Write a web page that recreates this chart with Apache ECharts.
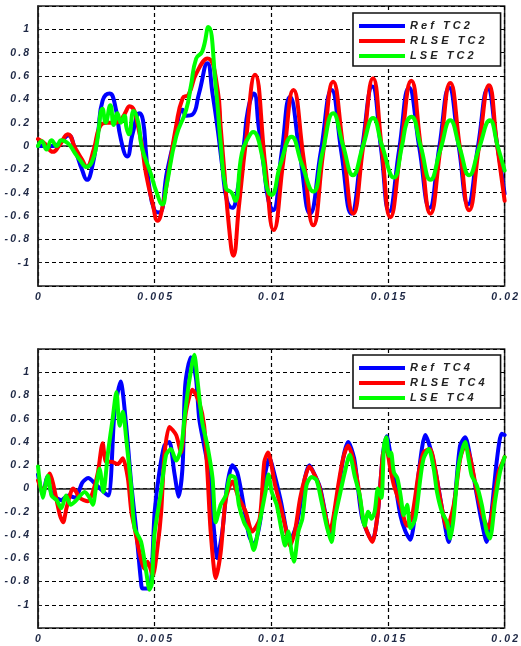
<!DOCTYPE html>
<html>
<head>
<meta charset="utf-8">
<script src="https://cdn.jsdelivr.net/npm/echarts@6/dist/echarts.min.js"></script>
<style>
  html, body { margin: 0; padding: 0; background: #fff; }
  #chart { width: 521px; height: 646px; }
</style>
</head>
<body>
<div id="chart"></div>
<script>
// Time axis ticks (s) and value axis range
const timeTicks = [0, 0.005, 0.01, 0.015, 0.02];
const valueTicks = [-1, -0.8, -0.6, -0.4, -0.2, 0, 0.2, 0.4, 0.6, 0.8, 1];

// ---- TC2 panel ----
const tc2RefTime = [0,0.0005,0.0009,0.0013,0.0016,0.0019,0.0021,0.0023,0.00257,0.00277,0.00307,0.00328,0.00356,0.00382,0.00406,0.00435,0.0045,0.00463,0.00477,0.00499,0.0052,0.00553,0.00584,0.0062,0.00636,0.00662,0.0069,0.00726,0.00748,0.00769,0.0079,0.0081,0.00832,0.00855,0.00883,0.009,0.00925,0.00946,0.00968,0.00988,0.01007,0.01044,0.0108,0.01123,0.01166,0.01212,0.01258,0.013,0.01343,0.01388,0.01433,0.0147,0.01505,0.01548,0.0159,0.01634,0.01678,0.0172,0.01762,0.01803,0.01843,0.01886,0.01928,0.01965,0.02];
const tc2RefVal  = [0,0,0.02,0.09,-0.04,-0.21,-0.29,-0.2,0.11,0.39,0.45,0.37,0.05,-0.09,0.11,0.28,0.22,-0.06,-0.35,-0.55,-0.57,-0.22,0.05,0.31,0.26,0.27,0.45,0.71,0.45,0.16,-0.18,-0.47,-0.53,-0.38,0.02,0.31,0.45,0.16,-0.18,-0.47,-0.55,-0.06,0.42,-0.08,-0.58,-0.05,0.48,-0.05,-0.58,-0.03,0.51,-0.02,-0.56,-0.03,0.5,-0.01,-0.53,-0.01,0.5,0,-0.5,0,0.49,0.05,-0.41];

const tc2RlseTime = [0,0.0003,0.00064,0.0009,0.00128,0.0016,0.0019,0.00208,0.0024,0.00264,0.00295,0.0033,0.0036,0.00393,0.00435,0.00463,0.00491,0.00513,0.00534,0.00563,0.00591,0.0062,0.00645,0.00678,0.00726,0.0077,0.00783,0.00797,0.00819,0.00837,0.00861,0.0089,0.0093,0.00975,0.0101,0.01052,0.01095,0.01138,0.0118,0.01222,0.01265,0.01308,0.01351,0.01394,0.01436,0.01473,0.0151,0.01555,0.016,0.01641,0.01682,0.01725,0.01767,0.01808,0.01848,0.0189,0.01933,0.01967,0.02];
const tc2RlseVal  = [0.06,0.02,-0.05,0,0.1,-0.02,-0.12,-0.18,-0.02,0.16,0.2,0.2,0.24,0.34,0.11,-0.24,-0.49,-0.64,-0.52,-0.18,0.16,0.41,0.44,0.62,0.75,0.48,0.16,-0.18,-0.7,-0.94,-0.52,0.02,0.61,-0.18,-0.72,-0.12,0.48,-0.1,-0.68,-0.06,0.55,-0.01,-0.58,0,0.58,-0.01,-0.61,-0.02,0.56,-0.01,-0.58,-0.02,0.54,-0.01,-0.55,-0.01,0.52,0.02,-0.47];

const tc2LseTime = [0,0.00016,0.00037,0.00058,0.0008,0.001,0.0013,0.00158,0.0018,0.00208,0.0023,0.0025,0.00277,0.0029,0.0031,0.00325,0.0034,0.00355,0.0037,0.0038,0.0039,0.0041,0.0043,0.00445,0.00484,0.00507,0.00533,0.0055,0.00592,0.00635,0.00655,0.00678,0.00704,0.0073,0.00762,0.00783,0.00805,0.0083,0.00845,0.00874,0.00904,0.00922,0.00961,0.0098,0.01,0.0104,0.01087,0.0113,0.0118,0.0122,0.01265,0.01308,0.0135,0.01393,0.01436,0.01475,0.01525,0.0156,0.0158,0.016,0.0164,0.01682,0.01725,0.01767,0.01808,0.01848,0.0189,0.01937,0.0197,0.02];
const tc2LseVal  = [0,0.04,-0.03,0.05,0,0.05,0.02,-0.06,-0.12,-0.18,-0.14,0,0.32,0.2,0.35,0.18,0.28,0.2,0.26,0.15,0.1,0.3,0.2,-0.01,-0.24,-0.39,-0.5,-0.35,0.08,0.31,0.51,0.75,0.81,1.02,0.51,0.02,-0.36,-0.4,-0.47,-0.06,0.08,0.12,-0.09,-0.35,-0.42,-0.15,0.08,-0.15,-0.39,-0.05,0.28,0,-0.25,0,0.24,0,-0.27,0,0.2,0.25,0,-0.29,-0.03,0.22,-0.02,-0.25,-0.02,0.22,0,-0.21];

// ---- TC4 panel ----
const tc4RefTime = [0,0.0002,0.0004,0.0006,0.001,0.0013,0.0016,0.0019,0.00215,0.0025,0.003,0.00328,0.00354,0.00378,0.004,0.0042,0.0044,0.00448,0.00478,0.005,0.0052,0.00542,0.00563,0.00584,0.00603,0.0062,0.00631,0.00655,0.00677,0.00691,0.00712,0.00733,0.00755,0.00768,0.0079,0.00811,0.00833,0.00854,0.00876,0.00904,0.00925,0.00954,0.00975,0.00992,0.01016,0.0104,0.0108,0.0111,0.01144,0.01163,0.0119,0.0121,0.0123,0.01251,0.0127,0.01308,0.0133,0.01355,0.0137,0.0139,0.01433,0.01457,0.01478,0.01495,0.0151,0.01532,0.01553,0.01575,0.01596,0.01617,0.01632,0.0166,0.01689,0.01717,0.01739,0.0176,0.01788,0.01809,0.01831,0.01856,0.01881,0.01902,0.01923,0.01944,0.01966,0.01987,0.02];
const tc4RefVal  = [0.12,-0.05,0.1,-0.05,-0.1,-0.06,-0.08,0.05,0.09,0.03,-0.06,0.66,0.92,0.54,0.03,-0.34,-0.77,-0.86,-0.86,-0.2,0.14,0.37,0.4,0.14,-0.07,0.2,0.89,1.13,0.95,0.6,0.37,0.14,-0.37,-0.6,-0.37,0.03,0.2,0.14,-0.08,-0.4,-0.49,-0.26,0.14,0.26,0.1,-0.1,-0.45,-0.3,0.09,0.2,0.1,0,-0.2,-0.4,-0.26,0.26,0.4,0.26,0.03,-0.26,-0.45,-0.2,0.29,0.45,0.3,0.03,-0.23,-0.37,-0.44,-0.2,0.14,0.46,0.29,0,-0.26,-0.46,-0.06,0.37,0.44,0.23,-0.06,-0.29,-0.46,-0.2,0.23,0.47,0.46];

const tc4RlseTime = [0,0.00021,0.00051,0.00066,0.00094,0.00108,0.00122,0.0015,0.00164,0.00178,0.00214,0.00235,0.00257,0.00277,0.00292,0.00314,0.00342,0.00363,0.00385,0.004,0.00414,0.00435,0.00456,0.0047,0.00492,0.00513,0.00528,0.00542,0.00563,0.00592,0.00613,0.00634,0.00662,0.00691,0.00712,0.00726,0.0074,0.00762,0.00783,0.00805,0.00833,0.0086,0.0089,0.00918,0.0095,0.0097,0.00986,0.01016,0.01038,0.01059,0.0108,0.01101,0.01123,0.01144,0.01163,0.01187,0.01208,0.01229,0.01251,0.01265,0.01287,0.01308,0.01329,0.0135,0.01372,0.01393,0.0141,0.01433,0.01457,0.01478,0.0149,0.01513,0.01525,0.01553,0.01582,0.01604,0.01632,0.01653,0.0168,0.01705,0.01724,0.01753,0.01782,0.0181,0.01831,0.01853,0.01881,0.0191,0.01931,0.01953,0.01974,0.01994,0.02];
const tc4RlseVal  = [0.07,-0.03,0.13,0.03,-0.23,-0.29,-0.17,0,-0.03,-0.08,-0.11,-0.03,0.14,0.39,0.23,0.23,0.21,0.26,0.09,-0.2,-0.34,-0.55,-0.69,-0.63,-0.75,-0.49,-0.2,0.29,0.53,0.46,0.31,0.66,0.85,0.74,0.54,0.14,-0.37,-0.77,-0.55,-0.09,0.06,-0.08,-0.2,-0.37,-0.26,0.23,0.31,0.03,-0.14,-0.32,-0.49,-0.37,-0.09,0.09,0.19,0.11,0,-0.2,-0.37,-0.26,0.03,0.26,0.37,0.26,0.03,-0.26,-0.37,-0.46,-0.2,0.29,0.36,0.14,0.03,-0.14,-0.32,-0.23,0.14,0.31,0.34,0.14,-0.09,-0.34,-0.14,0.26,0.37,0.26,-0.03,-0.26,-0.34,-0.11,0.14,0.24,0.27];

const tc4LseTime = [0,0.0002,0.00042,0.00058,0.0008,0.001,0.0012,0.0014,0.0016,0.002,0.00221,0.00235,0.0025,0.00264,0.0028,0.003,0.0032,0.00336,0.0035,0.00364,0.00378,0.004,0.00414,0.00442,0.00464,0.00478,0.00488,0.00499,0.00527,0.00549,0.0057,0.00592,0.00613,0.00631,0.00648,0.0067,0.00684,0.00704,0.00726,0.00748,0.00762,0.00783,0.00805,0.00826,0.00845,0.00861,0.00883,0.00904,0.00925,0.00947,0.00975,0.00988,0.01002,0.01023,0.01045,0.01059,0.01073,0.01087,0.01097,0.01116,0.01133,0.01151,0.01173,0.01194,0.01215,0.01237,0.01258,0.01272,0.01293,0.01315,0.01336,0.01357,0.01379,0.014,0.01415,0.01429,0.01443,0.01457,0.01472,0.01483,0.01493,0.01504,0.01513,0.01525,0.0154,0.01554,0.01568,0.01582,0.01596,0.01617,0.01639,0.01653,0.01675,0.01696,0.0171,0.01731,0.01753,0.01767,0.01781,0.01803,0.01831,0.01845,0.01859,0.0188,0.01902,0.01923,0.01937,0.01959,0.0198,0.02];
const tc4LseVal  = [0.19,-0.08,0.11,-0.06,-0.1,-0.17,-0.06,-0.14,-0.11,-0.03,-0.08,-0.14,0.03,0.17,-0.03,0.31,0.6,0.83,0.54,0.66,0.43,0,-0.34,-0.46,-0.72,-0.87,-0.82,-0.4,-0.03,0.29,0.34,0.24,0.34,0.66,0.92,1.15,0.92,0.57,0.37,0.09,-0.29,-0.14,-0.06,0.11,0.09,-0.14,-0.29,-0.37,-0.53,-0.32,-0.03,0.12,-0.03,-0.14,-0.37,-0.49,-0.37,-0.55,-0.63,-0.37,-0.26,0.03,0.1,0.07,-0.11,-0.32,-0.46,-0.26,-0.06,0.14,0.29,0.11,-0.06,-0.32,-0.2,-0.26,-0.2,0,-0.08,0.37,0.44,0.28,0.31,0.14,0.09,-0.06,-0.23,-0.14,-0.34,-0.26,0.09,0.26,0.34,0.17,-0.03,-0.2,-0.29,-0.43,-0.26,0.2,0.4,0.26,0.11,0.03,-0.14,-0.37,-0.43,-0.11,0.14,0.27];

const seriesNames = [['Ref TC2', 'RLSE TC2', 'LSE TC2'], ['Ref TC4', 'RLSE TC4', 'LSE TC4']];
const seriesColors = ['#0000ff', '#ff0000', '#00ff00'];

const pair = (t, v) => t.map((x, i) => [x, v[i]]);
const spaced = (s, gap) => s.split('').join(gap || '\u2009');

const labelFont = {
  color: '#1d2744',
  fontFamily: 'Liberation Sans, Arial, sans-serif',
  fontWeight: 'bold',
  fontStyle: 'italic',
  fontSize: 10.5
};

const grids = [
  { left: 38, right: 14, top: 6, height: 280 },
  { left: 38, right: 14, top: 349, height: 279 }
];

function xAxisFor(i) {
  return {
    type: 'value', gridIndex: i, min: 0, max: 0.02, interval: 0.005,
    axisLine: { show: true, lineStyle: { color: '#222', width: 1.5 } },
    axisTick: { show: true, inside: true, length: 4, lineStyle: { color: '#222' } },
    splitLine: { show: true, lineStyle: { color: '#000', type: [4, 3], width: 1.2 } },
    axisLabel: Object.assign({ margin: 6, formatter: v => {
      const t = timeTicks.find(k => Math.abs(k - v) < 1e-9);
      return t === undefined ? '' : spaced(String(t));
    } }, labelFont)
  };
}

function yAxisFor(i) {
  return {
    type: 'value', gridIndex: i, min: -1.2, max: 1.2, interval: 0.2,
    axisLine: { show: true, lineStyle: { color: '#222', width: 1.5 } },
    axisTick: { show: true, inside: true, length: 4, lineStyle: { color: '#222' } },
    splitLine: { show: true, lineStyle: { color: '#000', type: [4, 3], width: 1.2 } },
    axisLabel: Object.assign({ margin: 9, formatter: v => {
      const r = Math.round(v * 10) / 10;
      const t = valueTicks.find(k => Math.abs(k - r) < 1e-9);
      return t === undefined ? '' : spaced(String(t));
    } }, labelFont)
  };
}

function legendFor(i, top) {
  return {
    orient: 'vertical', left: 353, top: top,
    data: seriesNames[i],
    icon: 'rect', itemWidth: 46, itemHeight: 4, itemGap: 3,
    padding: [7, 16, 4, 6],
    backgroundColor: '#fff', borderColor: '#111', borderWidth: 1.6, borderRadius: 0,
    formatter: n => spaced(n, ' '),
    textStyle: Object.assign({}, labelFont, { fontSize: 11, lineHeight: 12, color: '#222' })
  };
}

const data = [
  [pair(tc2RefTime, tc2RefVal), pair(tc2RlseTime, tc2RlseVal), pair(tc2LseTime, tc2LseVal)],
  [pair(tc4RefTime, tc4RefVal), pair(tc4RlseTime, tc4RlseVal), pair(tc4LseTime, tc4LseVal)]
];
const smoothness = [0.5, 0.25];

const series = [];
for (let g = 0; g < 2; g++) {
  for (let s = 0; s < 3; s++) {
    series.push({
      type: 'line', name: seriesNames[g][s],
      xAxisIndex: g, yAxisIndex: g,
      data: data[g][s],
      showSymbol: false, symbol: 'none',
      smooth: smoothness[g],
      lineStyle: { color: seriesColors[s], width: 4, cap: 'round', join: 'round' },
      itemStyle: { color: seriesColors[s] },
      z: 2 + s
    });
  }
}

const chart = echarts.init(document.getElementById('chart'), null, { renderer: 'canvas' });
chart.setOption({
  animation: false,
  backgroundColor: '#fff',
  grid: grids.map(g => Object.assign({ show: true, borderColor: '#222', borderWidth: 1.5, backgroundColor: 'transparent' }, g)),
  xAxis: [xAxisFor(0), xAxisFor(1)],
  yAxis: [yAxisFor(0), yAxisFor(1)],
  legend: [legendFor(0, 13), legendFor(1, 355)],
  series: series
});
</script>
</body>
</html>
